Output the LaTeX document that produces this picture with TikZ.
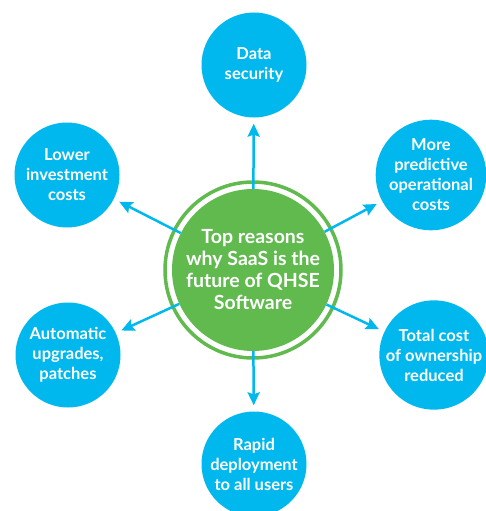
\documentclass[tikz,border=0pt]{standalone}
\usepackage{fontspec}
\setmainfont{Lato}
\usetikzlibrary{arrows.meta}
\definecolor{sky}{RGB}{0,184,238}
\definecolor{leaf}{RGB}{96,186,78}
\begin{document}
\begin{tikzpicture}[x=1pt,y=-1pt,
  bubble/.style={circle,fill=sky,minimum size=105pt,inner sep=0pt,align=center,text=white,
    font=\bfseries\fontsize{16.5}{20}\selectfont},
  hubstyle/.style={circle,fill=leaf,minimum size=162pt,inner sep=0pt,align=center,text=white,
    font=\bfseries\fontsize{19.5}{22}\selectfont},
  link/.style={draw=sky,line width=2.5pt,-{Stealth[length=13pt,width=12pt,inset=2pt]},shorten >=6pt}]
\useasboundingbox (0,0) rectangle (486,511);
\clip (0,0) rectangle (486,511);
\node[hubstyle] (hub) at (253,270) {Top reasons\\why SaaS is the\\future of QHSE\\Software};
\draw[leaf,line width=3.5pt] (hub.center) circle (88pt);
\node[bubble] (ds) at (254,65) {Data\\security};
\node[bubble] (li) at (67,175) {Lower\\investment\\costs};
\node[bubble] (mp) at (431,175) {More\\predictive\\operational\\costs};
\node[bubble] (au) at (68,355) {Automatic\\upgrades,\\patches};
\node[bubble] (tc) at (434,355) {Total cost\\of ownership\\reduced};
\node[bubble] (rd) at (254,464) {Rapid\\deployment\\to all users};
\draw[link] (hub) -- (ds);
\draw[link] (hub) -- (li);
\draw[link] (hub) -- (mp);
\draw[link] (hub) -- (au);
\draw[link] (hub) -- (tc);
\draw[link] (hub) -- (rd);
\end{tikzpicture}
\end{document}
